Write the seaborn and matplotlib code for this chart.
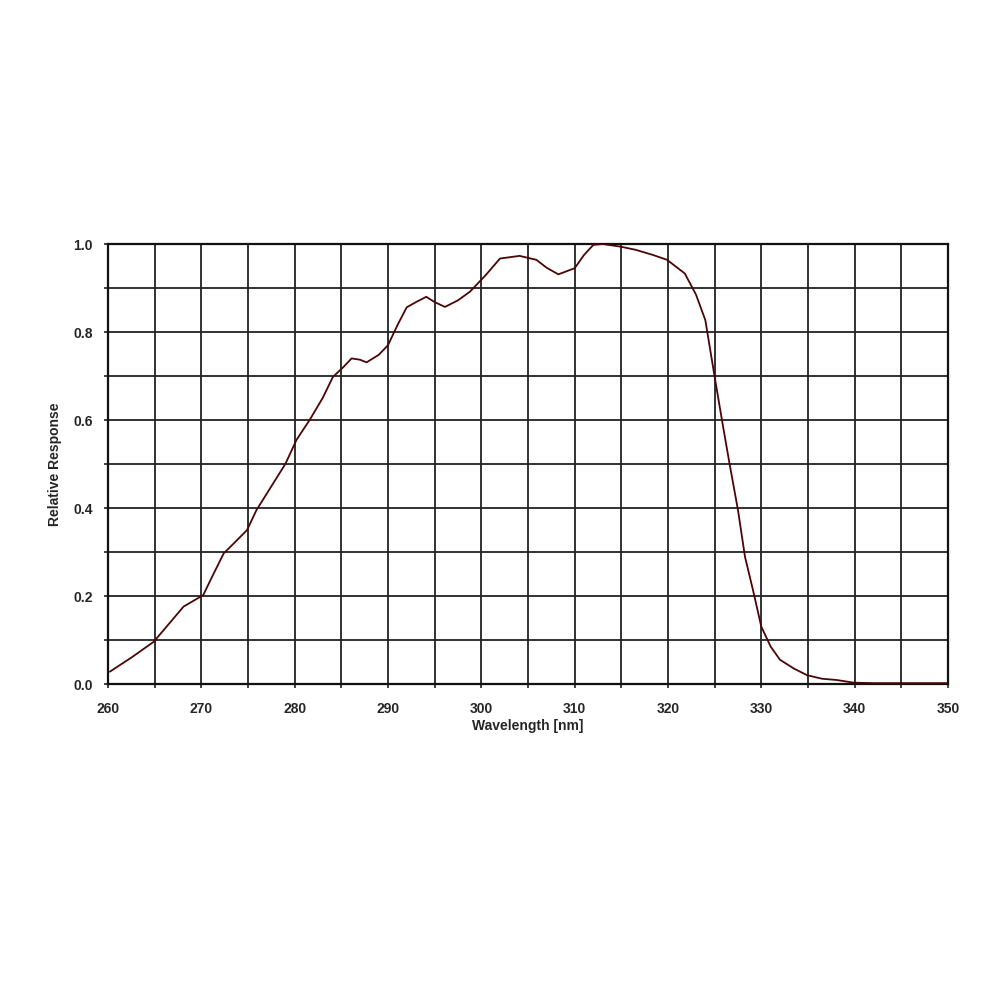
import numpy as np
import pandas as pd
import matplotlib
matplotlib.use("Agg")
import matplotlib.pyplot as plt
import seaborn as sns

# relative spectral response
wavelength = [260.2, 262.5, 264.9, 266.5, 268.1, 270.2, 271.3, 272.4, 273.5, 274.9,
              275.9, 277.7, 279.0, 280.2, 281.6, 283.0, 284.1, 285.3, 286.1, 287.0,
              287.7, 289.0, 290.0, 291.0, 292.0, 293.0, 294.1, 295.0, 296.1, 297.5,
              298.8, 300.5, 302.0, 304.1, 305.9, 307.0, 308.25, 310.0, 311.0, 312.0,
              313.0, 314.9, 316.5, 318.4, 319.9, 321.8, 323.0, 324.0, 325.0, 325.9,
              326.6, 327.5, 328.25, 329.1, 330.0, 331.0, 332.0, 333.5, 334.9, 336.5,
              338.1, 339.9, 342.0, 345.0, 348.0, 350.0]
response = [0.028, 0.060, 0.096, 0.136, 0.176, 0.202, 0.250, 0.297, 0.320, 0.350,
            0.395, 0.456, 0.500, 0.555, 0.600, 0.650, 0.698, 0.722, 0.740, 0.737,
            0.731, 0.748, 0.770, 0.815, 0.856, 0.868, 0.880, 0.868, 0.857, 0.872,
            0.892, 0.930, 0.967, 0.973, 0.964, 0.946, 0.931, 0.945, 0.975, 0.998,
            1.000, 0.994, 0.987, 0.975, 0.964, 0.933, 0.885, 0.827, 0.698, 0.585,
            0.500, 0.395, 0.289, 0.214, 0.130, 0.085, 0.055, 0.035, 0.020, 0.012,
            0.009, 0.003, 0.002, 0.002, 0.002, 0.002]

x_ticks = [260, 270, 280, 290, 300, 310, 320, 330, 340, 350]
y_ticks = [0.0, 0.2, 0.4, 0.6, 0.8, 1.0]

df = pd.DataFrame({"wavelength": wavelength, "response": response})

sns.set_style("white")
plt.rcParams['font.family'] = ['Liberation Sans', 'DejaVu Sans']

fig = plt.figure(figsize=(10, 10), dpi=100)
ax = fig.add_axes([0.108, 0.316, 0.84, 0.44])

sns.lineplot(data=df, x="wavelength", y="response", ax=ax, color="#4a0606",
             linewidth=1.3, zorder=3)

ax.set_xlim(260, 350)
ax.set_ylim(0, 1.0)
ax.set_xticks(x_ticks)
ax.set_xticks(np.arange(260, 351, 5), minor=True)
ax.set_yticks(y_ticks)
ax.set_yticks(np.arange(0, 1.01, 0.1), minor=True)
ax.set_xticklabels([str(t) for t in x_ticks], fontsize=10, fontweight="bold")
ax.set_yticklabels(["%.1f" % t for t in y_ticks], fontsize=10, fontweight="bold")

ax.grid(which="both", color="#222222", linewidth=1.3)
ax.tick_params(which="both", direction="out", length=3, width=1.2, color="#222222",
               bottom=True, left=True)
ax.tick_params(axis="x", which="major", pad=10)
ax.tick_params(axis="y", which="major", pad=8)
for s in ax.spines.values():
    s.set_color("#111111")
    s.set_linewidth(1.6)

ax.set_xlabel("Wavelength [nm]", fontsize=10, fontweight="bold", labelpad=2)
ax.set_ylabel("Relative Response", fontsize=10, fontweight="bold", labelpad=8)

fig.savefig("out.png", dpi=100, facecolor="white")
